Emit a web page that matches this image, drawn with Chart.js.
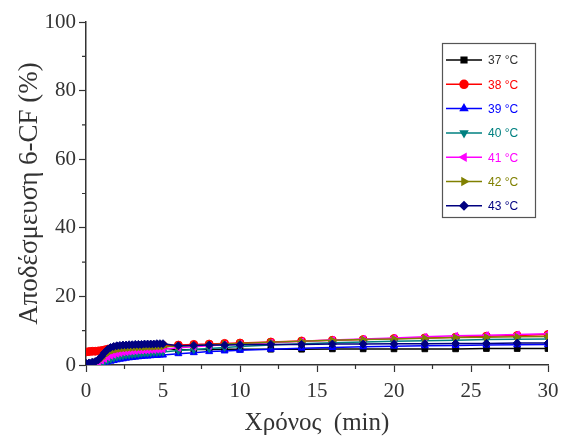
<!DOCTYPE html>
<html>
<head>
<meta charset="utf-8">
<script src="https://cdn.jsdelivr.net/npm/chart.js@4/dist/chart.umd.min.js"></script>
<style>
  html, body { margin: 0; padding: 0; background: #fff; }
  #wrap { width: 561px; height: 442px; }
</style>
</head>
<body>
<div id="wrap"><canvas id="releaseChart" width="561" height="442"></canvas></div>
<script>
// sampling times (min)
const times = [0, 0.2, 0.4, 0.6, 0.8, 1.0, 1.2, 1.4, 1.6, 1.8, 2.0, 2.2, 2.4, 2.6, 2.8, 3.0, 3.2, 3.4, 3.6, 3.8, 4.0, 4.2, 4.4, 4.6, 4.8, 5.0,
  6, 7, 8, 9, 10, 12, 14, 16, 18, 20, 22, 24, 26, 28, 30];

// 6-CF release (%) per temperature
const release37 = [0.3, 0.4, 0.5, 0.7, 1.0, 1.8, 2.8, 3.6, 4.1, 4.4, 4.5, 4.6, 4.6, 4.7, 4.7, 4.7, 4.8, 4.8, 4.8, 4.8, 4.9, 4.9, 4.9, 4.9, 4.9, 5.0,
  4.4, 4.5, 4.5, 4.6, 4.6, 4.6, 4.6, 4.7, 4.7, 4.7, 4.7, 4.7, 4.8, 4.8, 4.8];
const release38 = [3.8, 3.9, 4.0, 4.0, 4.1, 4.2, 4.4, 4.6, 4.8, 5.0, 5.1, 5.2, 5.2, 5.3, 5.3, 5.4, 5.4, 5.4, 5.5, 5.5, 5.5, 5.6, 5.6, 5.6, 5.7, 5.7,
  5.8, 6.0, 6.1, 6.3, 6.4, 6.7, 7.0, 7.2, 7.4, 7.7, 7.9, 8.1, 8.4, 8.6, 8.9];
const release39 = [0.0, 0.1, 0.2, 0.3, 0.4, 0.5, 0.7, 0.9, 1.1, 1.3, 1.5, 1.7, 1.8, 2.0, 2.1, 2.2, 2.3, 2.4, 2.5, 2.6, 2.6, 2.7, 2.8, 2.8, 2.9, 2.9,
  3.3, 3.6, 3.9, 4.1, 4.3, 4.6, 4.9, 5.1, 5.3, 5.5, 5.6, 5.7, 5.8, 5.9, 6.0];
const release40 = [0.1, 0.2, 0.3, 0.4, 0.6, 0.8, 1.1, 1.4, 1.7, 2.0, 2.3, 2.5, 2.7, 2.9, 3.0, 3.1, 3.2, 3.3, 3.4, 3.5, 3.5, 3.6, 3.7, 3.7, 3.8, 3.8,
  4.2, 4.5, 4.8, 5.1, 5.4, 5.8, 6.2, 6.5, 6.7, 6.9, 7.1, 7.2, 7.4, 7.5, 7.6];
const release41 = [0.2, 0.3, 0.4, 0.6, 0.9, 1.3, 1.8, 2.3, 2.7, 3.0, 3.3, 3.5, 3.7, 3.8, 3.9, 4.0, 4.1, 4.2, 4.2, 4.3, 4.3, 4.4, 4.4, 4.5, 4.5, 4.6,
  5.0, 5.3, 5.6, 5.9, 6.1, 6.5, 6.9, 7.3, 7.6, 7.9, 8.2, 8.5, 8.7, 8.9, 9.1];
const release42 = [0.3, 0.4, 0.5, 0.8, 1.2, 1.9, 2.8, 3.5, 4.0, 4.3, 4.5, 4.7, 4.8, 4.9, 5.0, 5.0, 5.1, 5.1, 5.2, 5.2, 5.3, 5.3, 5.3, 5.4, 5.4, 5.4,
  5.5, 5.7, 5.9, 6.1, 6.3, 6.6, 6.9, 7.2, 7.4, 7.6, 7.8, 8.0, 8.1, 8.2, 8.3];
const release43 = [0.5, 0.6, 0.8, 1.0, 1.5, 2.5, 3.6, 4.5, 5.1, 5.4, 5.6, 5.7, 5.8, 5.8, 5.9, 5.9, 6.0, 6.0, 6.0, 6.1, 6.1, 6.1, 6.1, 6.2, 6.2, 6.2,
  5.6, 5.7, 5.8, 5.8, 5.9, 6.0, 6.0, 6.1, 6.1, 6.2, 6.2, 6.3, 6.3, 6.4, 6.4];

const seriesLabels = ["37 °C", "38 °C", "39 °C", "40 °C", "41 °C", "42 °C", "43 °C"];
const xTicks = [0, 5, 10, 15, 20, 25, 30];
const yTicks = [0, 20, 40, 60, 80, 100];

const allSeries = [release37, release38, release39, release40, release41, release42, release43];
const colors = ["#000000", "#ff0000", "#0000ff", "#008080", "#ff00ff", "#808000", "#000080"];
const markers = [
  { style: "rect", rot: 0 },
  { style: "circle", rot: 0 },
  { style: "triangle", rot: 0 },
  { style: "triangle", rot: 180 },
  { style: "triangle", rot: 270 },
  { style: "triangle", rot: 90 },
  { style: "rectRot", rot: 0 }
];

const SERIF = "'Liberation Serif', 'Times New Roman', serif";
const SANS = "'Liberation Sans', Arial, sans-serif";

const datasets = allSeries.map((vals, i) => ({
  label: seriesLabels[i],
  data: times.map((t, k) => ({ x: t, y: vals[k] })),
  borderColor: colors[i],
  backgroundColor: colors[i],
  borderWidth: 1.5,
  pointStyle: markers[i].style,
  pointRotation: markers[i].rot,
  pointRadius: 4,
  pointBorderWidth: 1,
  tension: 0,
  order: allSeries.length - i   // later temperatures sit on top
}));

// boxed legend inside the plot, line + marker + coloured text
const boxLegend = {
  id: "boxLegend",
  afterDraw(chart) {
    const ctx = chart.ctx;
    const x0 = 442, y0 = 43, w = 93, h = 174, step = 24.3;
    ctx.save();
    ctx.strokeStyle = "#555";
    ctx.lineWidth = 1.2;
    ctx.strokeRect(x0 + 0.5, y0 + 0.5, w, h);
    ctx.font = "12px " + SANS;
    ctx.textBaseline = "middle";
    seriesLabels.forEach((lab, i) => {
      const y = 60 + i * step;
      ctx.strokeStyle = colors[i];
      ctx.fillStyle = colors[i];
      ctx.lineWidth = 1.5;
      ctx.beginPath();
      ctx.moveTo(446, y);
      ctx.lineTo(482, y);
      ctx.stroke();
      Chart.helpers.drawPoint(ctx, {
        pointStyle: markers[i].style,
        rotation: markers[i].rot,
        radius: 4,
        borderWidth: 1
      }, 464, y);
      ctx.fillStyle = i === 0 ? "#333" : colors[i];
      ctx.fillText(lab, 488, y + 1);
    });
    ctx.restore();
  }
};

// short minor ticks between the labelled ones
const minorTicks = {
  id: "minorTicks",
  afterDraw(chart) {
    const { ctx, chartArea, scales } = chart;
    ctx.save();
    ctx.strokeStyle = "#333";
    ctx.lineWidth = 1.2;
    ctx.beginPath();
    for (let v = 2.5; v < 30; v += 5) {
      const px = scales.x.getPixelForValue(v);
      ctx.moveTo(px, chartArea.bottom);
      ctx.lineTo(px, chartArea.bottom + 4);
    }
    for (let v = 10; v < 100; v += 20) {
      const py = scales.y.getPixelForValue(v);
      ctx.moveTo(chartArea.left, py);
      ctx.lineTo(chartArea.left - 4, py);
    }
    ctx.stroke();
    ctx.restore();
  }
};

new Chart(document.getElementById("releaseChart").getContext("2d"), {
  type: "line",
  data: { datasets: datasets },
  plugins: [boxLegend, minorTicks],
  options: {
    responsive: false,
    devicePixelRatio: 1,
    animation: false,
    layout: { padding: { top: 22, right: 13, left: 0, bottom: 0 } },
    plugins: {
      legend: { display: false },
      tooltip: { enabled: false }
    },
    scales: {
      x: {
        type: "linear",
        min: 0,
        max: 30,
        afterFit: (s) => { s.height = 77; s.paddingLeft = 0; s.paddingRight = 0; },
        afterBuildTicks: (s) => { s.ticks = xTicks.map(v => ({ value: v })); },
        border: { display: true, color: "#333", width: 1.5 },
        grid: { drawOnChartArea: false, drawTicks: true, tickLength: 7, tickColor: "#333", tickWidth: 1.2 },
        ticks: { font: { family: SERIF, size: 21 }, color: "#333", padding: 7, maxRotation: 0 },
        title: {
          display: true,
          text: "Χρόνος  (min)",
          font: { family: SERIF, size: 25 },
          color: "#333",
          padding: { top: 0, bottom: 4 }
        }
      },
      y: {
        min: 0,
        max: 100,
        afterFit: (s) => { s.width = 86; },
        afterBuildTicks: (s) => { s.ticks = yTicks.map(v => ({ value: v })); },
        border: { display: true, color: "#333", width: 1.5 },
        grid: { drawOnChartArea: false, drawTicks: true, tickLength: 7, tickColor: "#333", tickWidth: 1.2 },
        ticks: { font: { family: SERIF, size: 21 }, color: "#333", padding: 3 },
        title: {
          display: true,
          text: "Αποδέσμευση 6-CF (%)",
          font: { family: SERIF, size: 27 },
          color: "#333",
          padding: { top: 14, bottom: 0 }
        }
      }
    }
  }
});
</script>
</body>
</html>
